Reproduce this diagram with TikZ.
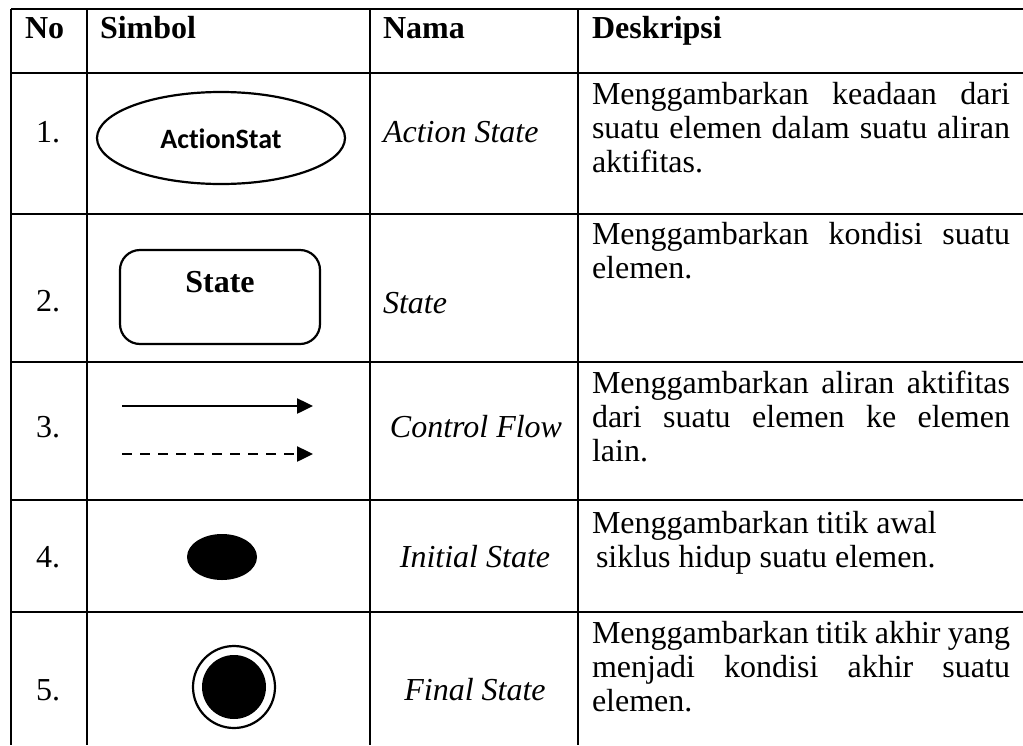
\documentclass[tikz,border=0pt]{standalone}
\usepackage{fontspec}
\setmainfont[Ligatures=NoCommon]{Liberation Serif}
\newfontfamily\carlitofont[Ligatures=NoCommon]{Carlito}
\usetikzlibrary{arrows.meta}
\begin{document}
\begin{tikzpicture}[x=1pt,y=-1pt,
  grid/.style={line width=2.6pt},
  txt/.style={inner sep=0pt,outer sep=0pt,font=\fontsize{32}{34.5}\selectfont},
  hdr/.style={txt,anchor=base west,font=\fontsize{32}{34.5}\selectfont\bfseries},
  desc/.style={txt,anchor=base west},
  num/.style={txt,anchor=base},
  nm/.style={txt,font=\fontsize{32}{34.5}\selectfont\itshape},
  sym/.style={line width=2.2pt},
  tip/.style={-{Triangle[length=16pt,width=15pt]}}
]
\useasboundingbox (0,0) rectangle (1023,745);
% grid
\draw[grid] (11,9) -- (1023,9);
\draw[grid] (11,73) -- (1023,73);
\draw[grid] (11,214) -- (1023,214);
\draw[grid] (11,362) -- (1023,362);
\draw[grid] (11,500) -- (1023,500);
\draw[grid] (11,612) -- (1023,612);
\foreach \x in {11,87,370,578} \draw[grid] (\x,9) -- (\x,745);
% header
\node[hdr] (hno) at (25,38) {No};
\node[hdr] (hsim) at (100,38) {Simbol};
\node[hdr] (hnama) at (383,38) {Nama};
\node[hdr] (hdesk) at (592,38) {Deskripsi};
% numbers
\node[num] (n1) at (48,142) {1.};
\node[num] (n2) at (48,311) {2.};
\node[num] (n3) at (48,437) {3.};
\node[num] (n4) at (48,567) {4.};
\node[num] (n5) at (48,700) {5.};
% names
\node[nm,anchor=base west] (m1) at (383,142) {Action State};
\node[nm,anchor=base west] (m2) at (383,313) {State};
\node[nm,anchor=base] (m3) at (476,437) {Control Flow};
\node[nm,anchor=base] (m4) at (475,567) {Initial State};
\node[nm,anchor=base] (m5) at (475,700) {Final State};
% descriptions
\node[desc] (d11) at (592,104) {\makebox[418pt][s]{Menggambarkan keadaan dari}};
\node[desc] (d12) at (592,138) {\makebox[418pt][s]{suatu elemen dalam suatu aliran}};
\node[desc] (d13) at (592,172) {aktifitas.};
\node[desc] (d21) at (592,244) {\makebox[418pt][s]{Menggambarkan kondisi suatu}};
\node[desc] (d22) at (592,278) {elemen.};
\node[desc] (d31) at (592,393) {\makebox[418pt][s]{Menggambarkan aliran aktifitas}};
\node[desc] (d32) at (592,427) {\makebox[418pt][s]{dari suatu elemen ke elemen}};
\node[desc] (d33) at (592,461) {lain.};
\node[desc] (d41) at (592,533) {Menggambarkan titik awal};
\node[desc] (d42) at (596,567) {siklus hidup suatu elemen.};
\node[desc] (d51) at (592,643) {\makebox[418pt][s]{Menggambarkan titik akhir yang}};
\node[desc] (d52) at (592,677) {\makebox[418pt][s]{menjadi kondisi akhir suatu}};
\node[desc] (d53) at (592,711) {elemen.};
% symbols
\draw[sym] (221,138) ellipse [x radius=124, y radius=46];
\node[txt,font=\carlitofont\fontsize{28}{32}\selectfont\bfseries] (as) at (221,139) {ActionStat};
\draw[sym,rounded corners=20pt] (120,250) rectangle (320,344);
\node[txt,font=\fontsize{32}{34.5}\selectfont\bfseries,anchor=base] (st) at (220,292) {State};
\coordinate (a1s) at (122,406);
\coordinate (a1e) at (313,406);
\coordinate (a2s) at (122,454);
\coordinate (a2e) at (313,454);
\draw[line width=2.5pt,tip] (a1s) -- (a1e);
\draw[line width=2.5pt,dash pattern=on 10pt off 8pt,tip] (a2s) -- (a2e);
\fill (222,557) ellipse [x radius=35, y radius=23];
\draw[line width=2.2pt] (234,687) circle (41);
\fill (234,687) circle (32);
\end{tikzpicture}
\end{document}
